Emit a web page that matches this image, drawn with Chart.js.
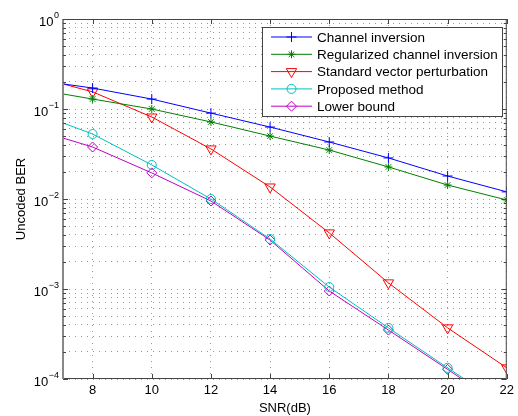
<!DOCTYPE html>
<html>
<head>
<meta charset="utf-8">
<script src="https://cdn.jsdelivr.net/npm/chart.js@4/dist/chart.umd.min.js"></script>
<style>
  html, body { margin: 0; padding: 0; background: #fff; }
  #wrap { width: 518px; height: 416px; position: relative; }
</style>
</head>
<body>
<div id="wrap"><canvas id="chart"></canvas></div>
<script>
// SNR points (dB); first point only starts the line, markers sit on the even ones
const snr = [7, 8, 10, 12, 14, 16, 18, 20, 22];
const xTicks = [8, 10, 12, 14, 16, 18, 20, 22];
const yDecades = [-4, -3, -2, -1, 0];

const channelInversion = [0.19, 0.171, 0.129, 0.090, 0.063, 0.043, 0.0286, 0.018, 0.012];
const regularizedInversion = [0.147, 0.129, 0.100, 0.0718, 0.050, 0.035, 0.0227, 0.0143, 0.00975];
const standardVP = [0.19, 0.155, 0.0815, 0.036, 0.0136, 0.0042, 0.00117, 0.00037, 0.000133];
const proposedMethod = [0.07, 0.0527, 0.0239, 0.0100, 0.0036, 0.00105, 0.00037, 0.000133, 0.000049];
const lowerBound = [0.0476, 0.0378, 0.0195, 0.0095, 0.0035, 0.00095, 0.00035, 0.000128, 0.000046];

const seriesNames = ['Channel inversion', 'Regularized channel inversion', 'Standard vector perturbation', 'Proposed method', 'Lower bound'];

const FONT = '"Liberation Sans", Arial, sans-serif';

function makeSet(label, values, color, style, radius, rotation) {
  return {
    label,
    data: snr.map((x, i) => ({ x, y: values[i] })),
    borderColor: color,
    backgroundColor: 'rgba(0,0,0,0)',
    borderWidth: 1,
    pointStyle: style,
    pointRotation: rotation || 0,
    pointRadius: snr.map(x => x === 7 ? 0 : radius),
    pointBorderWidth: 1,
    pointBackgroundColor: 'rgba(0,0,0,0)',
    tension: 0,
  };
}

const datasets = [
  makeSet(seriesNames[0], channelInversion, '#0000ff', 'cross', 5),
  makeSet(seriesNames[1], regularizedInversion, '#008000', 'star', 4),
  makeSet(seriesNames[2], standardVP, '#ff0000', 'triangle', 6, 180),
  makeSet(seriesNames[3], proposedMethod, '#00bfbf', 'circle', 4.5),
  makeSet(seriesNames[4], lowerBound, '#bf00bf', 'rectRot', 5),
];

// matlab-style box, inner ticks, superscript y labels and legend
const matlabDecor = {
  id: 'matlabDecor',
  afterDraw(chart) {
    const ctx = chart.ctx;
    const a = chart.chartArea;
    const xs = chart.scales.x, ys = chart.scales.y;
    ctx.save();

    // box
    ctx.strokeStyle = '#444';
    ctx.lineWidth = 1;
    ctx.strokeRect(a.left + 0.5, a.top + 0.5, a.right - a.left - 1, a.bottom - a.top - 1);
    ctx.fillStyle = '#888';
    ctx.fillRect(a.left - 1, a.top, 2, a.bottom - a.top);

    // ticks
    ctx.beginPath();
    xTicks.forEach(v => {
      const px = Math.round(xs.getPixelForValue(v)) + 0.5;
      ctx.moveTo(px, a.bottom); ctx.lineTo(px, a.bottom - 5);
      ctx.moveTo(px, a.top); ctx.lineTo(px, a.top + 5);
    });
    yDecades.forEach(e => {
      for (let m = 1; m <= 9; m++) {
        const v = m * Math.pow(10, e);
        if (v > 1) break;
        const py = Math.round(ys.getPixelForValue(v)) + 0.5;
        const len = m === 1 ? 5 : 3;
        ctx.moveTo(a.left, py); ctx.lineTo(a.left + len, py);
        ctx.moveTo(a.right, py); ctx.lineTo(a.right - len, py);
      }
    });
    ctx.stroke();

    // y labels 10^n
    ctx.fillStyle = '#000';
    yDecades.forEach(e => {
      const py = ys.getPixelForValue(Math.pow(10, e));
      ctx.textBaseline = 'alphabetic';
      const expTxt = e < 0 ? '\u2212' + (-e) : String(e);
      ctx.font = '9px ' + FONT;
      const ew = ctx.measureText(expTxt).width;
      ctx.textAlign = 'left';
      ctx.fillText(expTxt, 59 - ew, py - 1);
      ctx.font = '13px ' + FONT;
      ctx.textAlign = 'right';
      ctx.fillText('10', 59 - ew - 0.5, py + 7);
    });

    // legend
    const lx = 262, ly = 27, lw = 240, lh = 89;
    ctx.fillStyle = '#fff';
    ctx.fillRect(lx, ly, lw, lh);
    ctx.strokeStyle = '#444';
    ctx.strokeRect(lx + 0.5, ly + 0.5, lw, lh);
    ctx.font = '13.5px ' + FONT;
    ctx.textAlign = 'left';
    ctx.textBaseline = 'middle';
    chart.data.datasets.forEach((ds, i) => {
      const y = ly + 10 + i * 17.3;
      ctx.strokeStyle = ds.borderColor;
      ctx.lineWidth = 1;
      ctx.beginPath();
      ctx.moveTo(271, y); ctx.lineTo(312, y);
      ctx.stroke();
      ctx.fillStyle = 'rgba(0,0,0,0)';
      Chart.helpers.drawPoint(ctx, {
        pointStyle: ds.pointStyle,
        rotation: ds.pointRotation,
        radius: ds.pointRadius[1],
        borderWidth: 1,
      }, 291.5, y);
      ctx.fillStyle = '#000';
      ctx.fillText(ds.label, 317, y + 1);
    });
    ctx.restore();
  }
};

new Chart(document.getElementById('chart'), {
  type: 'line',
  data: { datasets },
  options: {
    responsive: true,
    maintainAspectRatio: false,
    animation: false,
    layout: { padding: { top: 19, right: 9, left: 0, bottom: 0 } },
    plugins: { legend: { display: false }, tooltip: { enabled: false } },
    scales: {
      x: {
        type: 'linear',
        min: 7,
        max: 22,
        afterFit(scale) { scale.height = 37; },
        afterBuildTicks(scale) { scale.ticks = xTicks.map(v => ({ value: v })); },
        ticks: { font: { family: FONT, size: 13 }, color: '#000', padding: 4, maxRotation: 0 },
        grid: { color: 'rgba(0,0,0,0.4)', borderDash: [1, 5], drawTicks: false, lineWidth: 1 },
        border: { display: false, dash: [1, 5] },
        title: { display: true, text: 'SNR(dB)', font: { family: FONT, size: 13 }, color: '#000', padding: { top: 0, bottom: 0 } },
      },
      y: {
        type: 'logarithmic',
        min: 1e-4,
        max: 1,
        afterFit(scale) { scale.width = 63; },
        afterBuildTicks(scale) {
          const t = [];
          yDecades.forEach(e => {
            for (let m = 1; m <= 9; m++) {
              const v = m * Math.pow(10, e);
              if (v <= 1) t.push({ value: v, major: m === 1 });
            }
          });
          scale.ticks = t;
        },
        ticks: { display: false, callback: () => '' },
        grid: { color: 'rgba(0,0,0,0.4)', borderDash: [1, 5], drawTicks: false, lineWidth: 1 },
        border: { display: false, dash: [1, 5] },
        title: { display: true, text: 'Uncoded BER', font: { family: FONT, size: 13 }, color: '#000', padding: { top: 14, bottom: 0 } },
      },
    },
  },
  plugins: [matlabDecor],
});
</script>
</body>
</html>
